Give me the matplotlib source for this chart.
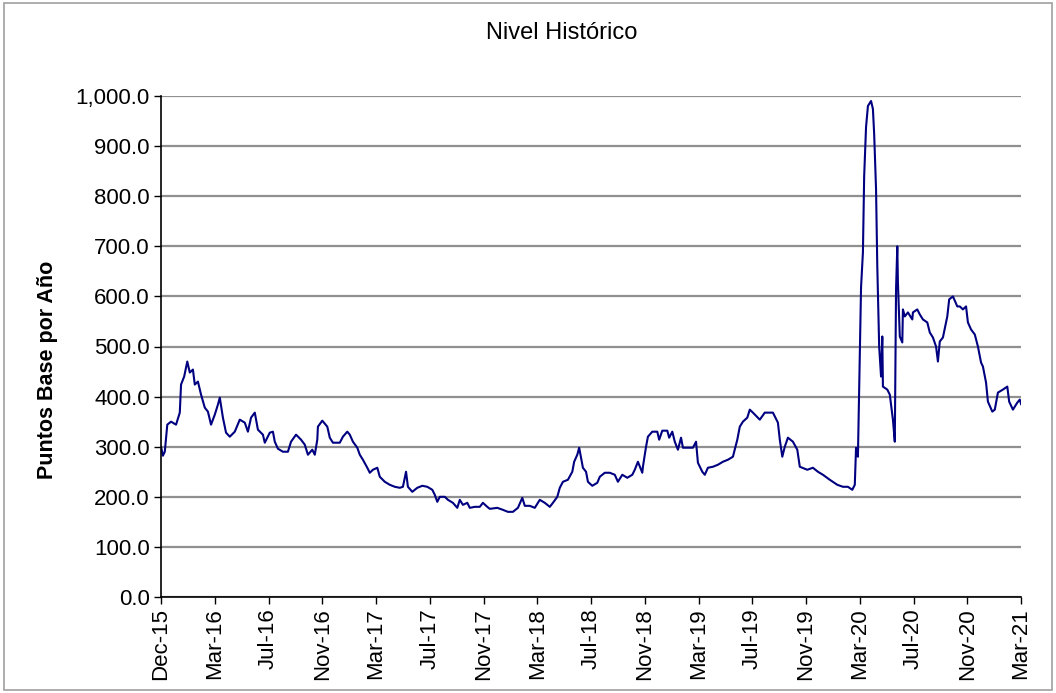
import matplotlib.pyplot as plt
from matplotlib.ticker import FuncFormatter
from matplotlib.patches import Rectangle

plt.rcParams['font.family'] = ['Liberation Sans', 'DejaVu Sans']

# Días hábiles transcurridos desde el inicio de la serie
dias = [0, 3, 6, 10, 16, 24, 30, 32, 37, 42, 46, 51, 54, 59, 64, 70, 75, 80, 86, 91,
        94, 99, 104, 110, 118, 126, 134, 139, 144, 150, 155, 163, 166, 174, 179, 182, 187, 195, 203, 208,
        216, 224, 230, 235, 242, 246, 250, 251, 258, 266, 270, 275, 286, 291, 298, 302, 307, 314, 318, 323,
        330, 334, 339, 346, 350, 358, 366, 374, 382, 387, 392, 395, 402, 410, 418, 426, 434, 438, 442, 446,
        454, 459, 467, 474, 478, 483, 490, 494, 502, 510, 515, 522, 526, 538, 547, 555, 563, 571, 578, 582,
        590, 598, 606, 614, 622, 627, 634, 638, 643, 651, 658, 661, 666, 669, 672, 675, 680, 683, 690, 698,
        702, 710, 718, 726, 731, 738, 746, 754, 758, 763, 770, 771, 776, 779, 786, 794, 797, 802, 810, 813,
        818, 822, 827, 832, 835, 843, 851, 856, 859, 866, 870, 875, 883, 891, 899, 907, 915, 922, 926, 931,
        938, 942, 947, 958, 966, 974, 979, 987, 990, 994, 998, 1003, 1011, 1018, 1022, 1034, 1043, 1051, 1059, 1070,
        1082, 1091, 1099, 1106, 1110, 1112, 1115, 1117, 1120, 1123, 1125, 1128, 1131, 1136, 1139, 1141, 1144, 1146, 1149, 1152,
        1154, 1155, 1162, 1166, 1171, 1174, 1176, 1178, 1179, 1182, 1186, 1187, 1190, 1195, 1202, 1203, 1210, 1214, 1219, 1226,
        1230, 1235, 1240, 1243, 1246, 1251, 1258, 1261, 1267, 1274, 1278, 1283, 1288, 1291, 1296, 1302, 1307, 1312, 1315, 1320,
        1323, 1330, 1334, 1339, 1347, 1354, 1357, 1363, 1370, 1374, 1376]

# Nivel en puntos base por año
nivel = [300, 282, 290, 344, 350, 344, 368, 424, 440, 470, 448, 454, 424, 430, 404, 378, 370, 344, 364, 384,
         398, 358, 328, 320, 330, 354, 348, 330, 358, 368, 334, 324, 308, 328, 330, 310, 296, 290, 290, 310,
         324, 314, 304, 284, 294, 284, 314, 340, 352, 340, 318, 308, 308, 320, 330, 324, 310, 298, 284, 274,
         258, 248, 254, 258, 240, 230, 224, 220, 218, 220, 250, 220, 210, 218, 222, 220, 214, 204, 190, 200,
         200, 194, 188, 178, 194, 184, 188, 178, 180, 180, 188, 180, 176, 178, 174, 170, 170, 178, 198, 182,
         182, 178, 194, 188, 180, 188, 200, 218, 230, 234, 250, 270, 284, 298, 278, 258, 250, 230, 222, 228,
         240, 248, 248, 244, 230, 244, 238, 244, 254, 270, 248, 260, 300, 320, 330, 330, 314, 332, 332, 318,
         330, 310, 294, 318, 298, 298, 298, 310, 268, 250, 244, 258, 260, 264, 270, 274, 280, 314, 340, 350,
         358, 374, 368, 354, 368, 368, 368, 348, 314, 280, 300, 318, 310, 294, 260, 254, 258, 250, 244, 234,
         224, 220, 220, 214, 224, 298, 280, 414, 618, 688, 840, 938, 980, 990, 974, 924, 814, 660, 500, 440,
         520, 420, 414, 404, 354, 310, 614, 700, 628, 520, 508, 574, 560, 568, 554, 568, 574, 564, 554, 548,
         528, 518, 500, 470, 510, 518, 560, 594, 600, 580, 580, 574, 580, 548, 534, 524, 500, 468, 460, 428,
         390, 370, 374, 408, 414, 420, 390, 374, 388, 394, 385]

etiquetas = ['Dec-15', 'Mar-16', 'Jul-16', 'Nov-16', 'Mar-17', 'Jul-17', 'Nov-17', 'Mar-18', 'Jul-18',
             'Nov-18', 'Mar-19', 'Jul-19', 'Nov-19', 'Mar-20', 'Jul-20', 'Nov-20', 'Mar-21']
paso = 86  # días hábiles entre etiquetas

fig = plt.figure(figsize=(10.56, 6.93), dpi=100)
ax = fig.add_axes([0.1525, 0.1385, 0.8144, 0.723])

ax.plot(dias, nivel, color='#000080', lw=1.5)

ax.set_xlim(0, paso * (len(etiquetas) - 1))
ax.set_ylim(0, 1000)
ax.set_yticks(range(0, 1001, 100))
ax.yaxis.set_major_formatter(FuncFormatter(lambda v, p: f'{v:,.1f}'))
ax.set_xticks([i * paso for i in range(len(etiquetas))])
ax.set_xticklabels(etiquetas, rotation=90)
ax.tick_params(labelsize=16, length=5, width=1, direction='out', pad=3)

ax.grid(axis='y', color='#909090', lw=1.6)
ax.set_axisbelow(True)
for s in ['top', 'right']:
    ax.spines[s].set_visible(False)
for s in ['left', 'bottom']:
    ax.spines[s].set_linewidth(1.2)

ax.set_ylabel('Puntos Base por Año', fontsize=15.5, fontweight='bold')
ax.yaxis.set_label_coords(-0.12, 0.453)
fig.text(0.532, 0.952, 'Nivel Histórico', ha='center', va='center', fontsize=17)

# Marco del gráfico
fig.add_artist(Rectangle((0.004, 0.004), 0.992, 0.992, transform=fig.transFigure,
                         fill=False, edgecolor='#a0a0a0', lw=1.2))

plt.savefig('out.png', dpi=100)
